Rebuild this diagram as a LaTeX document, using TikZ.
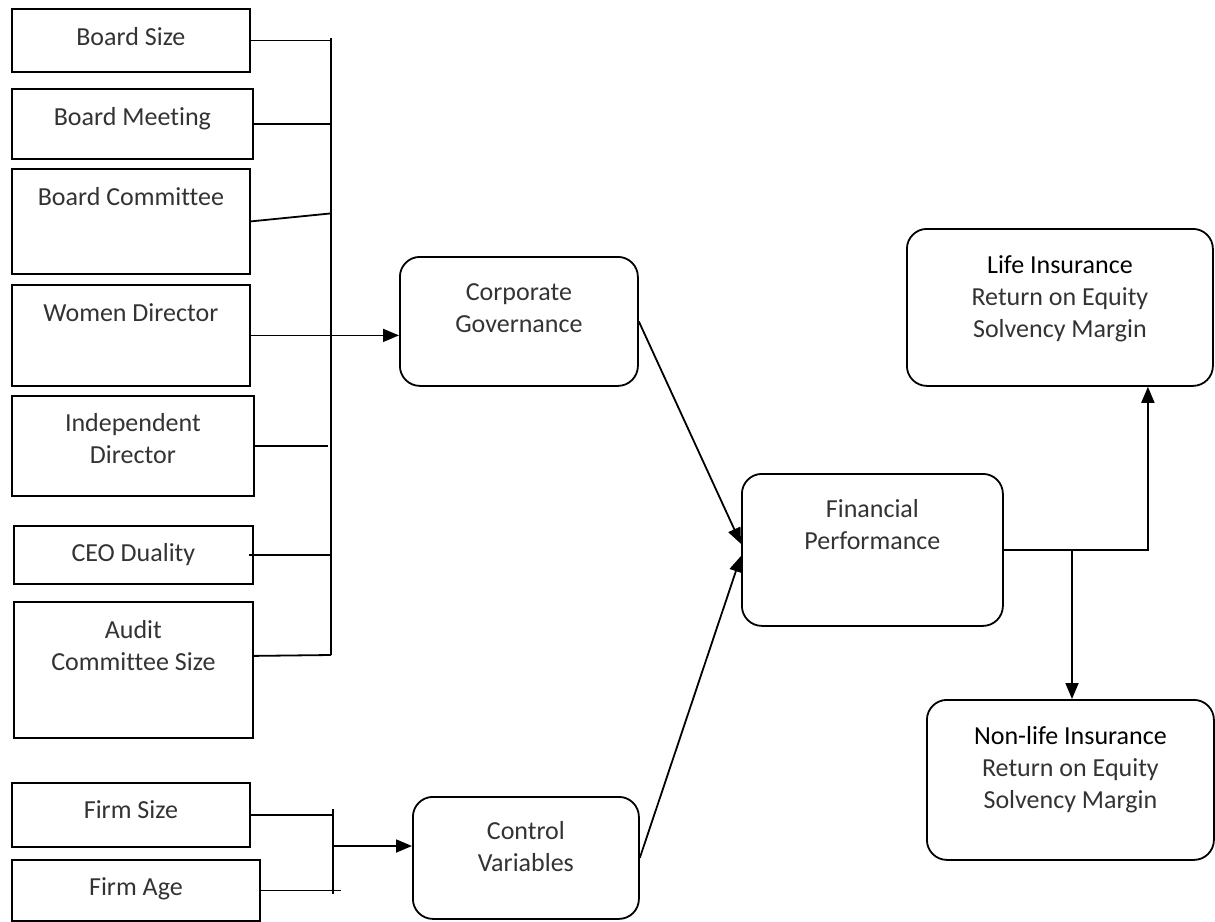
\documentclass[tikz,border=0pt]{standalone}
\usepackage{fontspec}
\setmainfont{Carlito}[Ligatures=NoCommon]
\usetikzlibrary{positioning,arrows.meta,calc}

\begin{document}
\begin{tikzpicture}[
x=1pt, y=-1pt,
line width=1.8pt,
sqbox/.style={
  draw,
  rectangle,
  anchor=north west,
  inner sep=0pt},
rbox/.style={
  draw,
  rectangle,
  rounded corners=20pt,
  anchor=north west,
  inner sep=0pt},
txt/.style={
  align=center,
  inner sep=0pt,
  text=black!80,
  font=\fontsize{26}{32}\selectfont},
arr/.style={-{Triangle[length=16pt,width=13pt]}}
]
\useasboundingbox (0,0) rectangle (1215,921);

% corporate governance variables
\node[sqbox, minimum width=238, minimum height=63]  (bsize) at (11,8) {};
\node[sqbox, minimum width=241, minimum height=70]  (bmeet) at (11,88) {};
\node[sqbox, minimum width=238, minimum height=105] (bcomm) at (11,168) {};
\node[sqbox, minimum width=238, minimum height=101] (wdir)  at (11,284) {};
\node[sqbox, minimum width=242, minimum height=100] (idir)  at (11,395) {};
\node[sqbox, minimum width=239, minimum height=58]  (ceo)   at (13,525) {};
\node[sqbox, minimum width=239, minimum height=136] (audit) at (13,601) {};
% control variables
\node[sqbox, minimum width=238, minimum height=64]  (fsize) at (11,782) {};
\node[sqbox, minimum width=248, minimum height=61]  (fage)  at (11,859) {};
% rounded boxes
\node[rbox, minimum width=238, minimum height=129] (corp)  at (399,256) {};
\node[rbox, minimum width=226, minimum height=122] (cv)    at (412,796) {};
\node[rbox, minimum width=261, minimum height=152] (fp)    at (741,473) {};
\node[rbox, minimum width=306, minimum height=157] (life)  at (906,228) {};
\node[rbox, minimum width=287, minimum height=160] (nlife) at (926,699) {};

\node[txt, below=14pt of bsize.north] (bsizeT) {\strut Board Size};
\node[txt, below=14pt of bmeet.north] (bmeetT) {\strut Board Meeting};
\node[txt, below=14pt of bcomm.north] (bcommT) {\strut Board Committee};
\node[txt, below=14pt of wdir.north]  (wdirT)  {\strut Women Director};
\node[txt, below=13pt of idir.north]  (idirT)  {\strut Independent\\Director};
\node[txt, below=13pt of ceo.north]   (ceoT)   {\strut CEO Duality};
\node[txt, below=14pt of audit.north] (auditT) {\strut Audit\\Committee Size};
\node[txt, below=13pt of fsize.north] (fsizeT) {\strut Firm Size};
\node[txt, below=13pt of fage.north]  (fageT)  {\strut Firm Age};
\node[txt, below=21pt of corp.north]  (corpT)  {\strut Corporate\\Governance};
\node[txt, below=20pt of cv.north]    (cvT)    {\strut Control\\Variables};
\node[txt, below=21pt of fp.north]    (fpT)    {\strut Financial\\Performance};
\node[txt, below=22pt of life.north]  (lifeT)
  {\strut{\color{black}Life Insurance}\\Return on Equity\\Solvency Margin};
\node[txt, below=22pt of nlife.north] (nlifeT)
  {\strut{\color{black}Non-life Insurance}\\Return on Equity\\Solvency Margin};

% governance bus
\coordinate (gtop) at (331,38);
\coordinate (gbot) at (331,655);
\draw (gtop) -- (gbot);
\draw (bsize.east) -- (bsize.east -| gtop);
\draw (bmeet.east) -- (bmeet.east -| gtop);
\draw (bcomm.east) -- ($(bcomm.east -| gtop)+(0,-8)$);
\draw[arr] (wdir.east) -- (wdir.east -| corp.west);
\draw (idir.east) -- ($(idir.east -| gtop)+(-3,0)$);
\draw ([xshift=-5pt]ceo.east) -- (ceo.east -| gtop);
\draw ([yshift=14pt]audit.east) -- (gbot);

% control bus
\coordinate (ftop) at (333,809);
\coordinate (fbot) at (333,894);
\coordinate (fmid) at (333,846);
\draw (ftop) -- (fbot);
\draw (fsize.east) -- (fsize.east -| ftop);
\draw (fage.east) -- ($(fage.east -| ftop)+(8,0)$);
\draw[arr] (fmid) -- (fmid -| cv.west);

% to performance
\draw[arr] (corp.east) -- ([yshift=6pt]fp.west);
\draw[arr] (cv.east) -- ([yshift=-6pt]fp.west);

% outcomes
\coordinate (split) at (1072,549);
\draw[arr] (fp.east) -| ([xshift=88pt]life.south);
\draw[arr] (split) -- (split |- nlife.north);
\end{tikzpicture}
\end{document}
